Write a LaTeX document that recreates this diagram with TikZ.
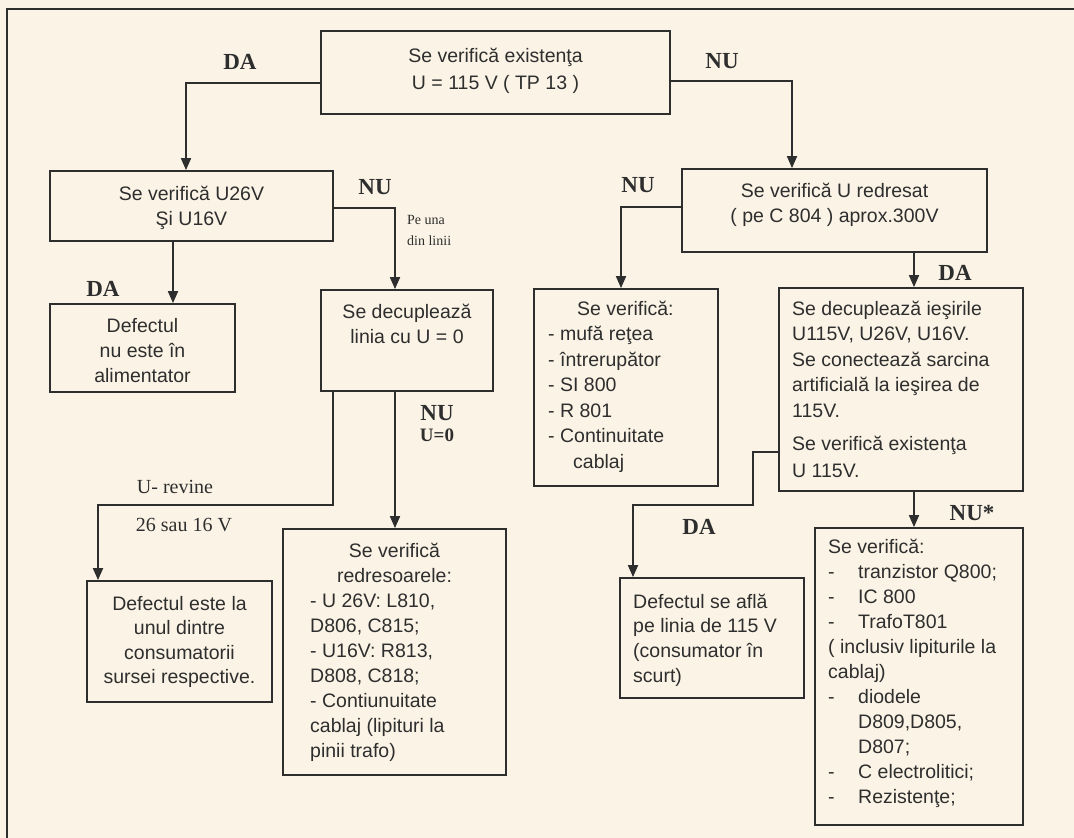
\documentclass[tikz,border=0pt]{standalone}
\usepackage{fontspec}
\setmainfont{Liberation Sans}
\newfontfamily\lblfont{Liberation Serif}
\usetikzlibrary{arrows.meta}
\definecolor{paper}{HTML}{FBF4E6}
\definecolor{ink}{HTML}{2E2E2E}
\newcommand{\fs}{\rule{0pt}{16pt}}
\begin{document}
\begin{tikzpicture}[x=1pt,y=-1pt,
  box/.style={draw=ink,line width=1.8pt,inner sep=0pt},
  arr/.style={draw=ink,line width=1.8pt,-{Triangle[length=12pt,width=10pt]}},
  txt/.style={inner sep=0pt,text=ink,font=\fontsize{19.5}{25.5}\selectfont},
  ctxt/.style={txt,anchor=north,align=center},
  ltxt/.style={txt,anchor=north west,align=left},
  lbl/.style={inner sep=0pt,text=ink,font=\lblfont\bfseries\fontsize{23}{23}\selectfont},
  note/.style={inner sep=0pt,text=ink,font=\lblfont\fontsize{20}{20}\selectfont}]
\useasboundingbox[fill=paper] (0,0) rectangle (1074,838);
% frame
\draw[ink,line width=1.2pt] (1074,9) -- (7,9) -- (7,838);
% boxes
\node[box,minimum width=349pt,minimum height=83pt] (top) at (495.5,72.5) {};
\node[box,minimum width=283pt,minimum height=70pt] (v1) at (191.5,206) {};
\node[box,minimum width=185pt,minimum height=88pt] (def1) at (142.5,348) {};
\node[box,minimum width=172pt,minimum height=101pt] (dec) at (407,340.5) {};
\node[box,minimum width=185pt,minimum height=121pt] (def2) at (179.5,641.5) {};
\node[box,minimum width=223pt,minimum height=246pt] (red) at (394.5,652) {};
\node[box,minimum width=305pt,minimum height=83pt] (redr) at (834.5,210.5) {};
\node[box,minimum width=184pt,minimum height=197pt] (mufa) at (626,387.5) {};
\node[box,minimum width=244pt,minimum height=203pt] (ies) at (901,389.5) {};
\node[box,minimum width=184pt,minimum height=120pt] (def3) at (712,638) {};
\node[box,minimum width=208pt,minimum height=297pt] (tr) at (919,676.5) {};
% texts
\node[ctxt,font=\fontsize{19.5}{27}\selectfont] (ttop) at (495.5,46) {\fs Se verifică existenţa\\U = 115 V ( TP 13 )};
\node[ctxt] (tv1) at (191.5,184) {\fs Se verifică U26V\\Şi U16V};
\node[ctxt,font=\fontsize{19.5}{25}\selectfont] (tdef1) at (142.5,316) {\fs Defectul\\nu este în\\alimentator};
\node[ctxt,font=\fontsize{19.5}{25}\selectfont] (tdec) at (407,302) {\fs Se decuplează\\linia cu U = 0};
\node[ctxt,font=\fontsize{19.5}{24.5}\selectfont] (tdef2) at (179.5,594) {\fs Defectul este la\\unul dintre\\consumatorii\\sursei respective.};
\node[ctxt,font=\fontsize{19.5}{25}\selectfont] (tred1) at (394.5,541) {\fs Se verifică\\redresoarele:};
\node[ltxt,font=\fontsize{19.5}{25}\selectfont] (tred2) at (310,591) {\fs - U 26V: L810,\\D806, C815;\\- U16V: R813,\\D808, C818;\\- Contiunuitate\\cablaj (lipituri la\\pinii trafo)};
\node[ctxt,font=\fontsize{19.5}{25}\selectfont] (tredr) at (834.5,181) {\fs Se verifică U redresat\\( pe C 804 ) aprox.300V};
\node[ltxt] (tmufa) at (548,299) {\fs\hspace*{29pt}Se verifică:\\- mufă reţea\\- întrerupător\\- SI 800\\- R 801\\- Continuitate\\\hspace*{25pt}cablaj};
\node[ltxt] (ties1) at (792,299) {\fs Se decuplează ieşirile\\U115V, U26V, U16V.\\Se conectează sarcina\\artificială la ieşirea de\\115V.};
\node[ltxt,font=\fontsize{19.5}{27}\selectfont] (ties2) at (792,434) {\fs Se verifică existenţa\\U 115V.};
\node[ltxt,font=\fontsize{19.5}{24.7}\selectfont] (tdef3) at (633,592) {\fs Defectul se află\\pe linia de 115 V\\(consumator în\\scurt)};
\node[ltxt,font=\fontsize{19.5}{25}\selectfont] (ttr) at (828,537) {\fs Se verifică:\\\makebox[30pt][l]{-}tranzistor Q800;\\\makebox[30pt][l]{-}IC 800\\\makebox[30pt][l]{-}TrafoT801\\( inclusiv lipiturile la\\cablaj)\\\makebox[30pt][l]{-}diodele\\\hspace*{30pt}D809,D805,\\\hspace*{30pt}D807;\\\makebox[30pt][l]{-}C electrolitici;\\\makebox[30pt][l]{-}Rezistenţe;};
% connectors
\draw[arr] ([yshift=-10.5pt]top.west) -| ([xshift=-5.5pt]v1.north);
\draw[arr] ([yshift=-2pt]v1.east) -| ([xshift=-12pt]dec.north);
\draw[arr] ([xshift=-18.5pt]v1.south) -- ([xshift=-18.5pt]v1.south |- def1.north);
\draw[arr] ([xshift=-74pt]dec.south) |- ([yshift=-113pt]dec.south -| def2.north) -| ([xshift=-81.5pt]def2.north);
\draw[arr] ([xshift=0.5pt]dec.south -| red.north) -- ([xshift=0.5pt]red.north);
\draw[arr] ([yshift=-8.5pt]top.east) -| ([xshift=-42.5pt]redr.north);
\draw[arr] ([yshift=3.5pt]redr.west) -| ([xshift=-5pt]mufa.north);
\draw[arr] ([xshift=79.5pt]redr.south) -- ([xshift=79.5pt]redr.south |- ies.north);
\draw[arr] ([yshift=-62.5pt]ies.west) -- ++(-25,0) |- ([yshift=-13pt]ies.south -| def3.north) -| ([xshift=-79pt]def3.north);
\draw[arr] ([xshift=13pt]ies.south) -- ([xshift=13pt]ies.south |- tr.north);
% labels
\node[lbl] (l1) at (240,62) {DA};
\node[lbl] (l2) at (722,61) {NU};
\node[lbl] (l3) at (375,187) {NU};
\node[inner sep=0pt,text=ink,font=\lblfont\fontsize{14}{21}\selectfont,anchor=north west,align=left] (l4) at (407,213) {\rule{0pt}{11pt}Pe una\\din linii};
\node[lbl] (l5) at (103,289) {DA};
\node[lbl] (l6) at (437,413) {NU};
\node[inner sep=0pt,text=ink,font=\lblfont\bfseries\fontsize{19}{19}\selectfont] (l7) at (437,435) {U=0};
\node[note] (l8) at (175,487) {U- revine};
\node[note] (l9) at (184,525) {26 sau 16 V};
\node[lbl] (l10) at (638,185) {NU};
\node[lbl] (l11) at (955,273) {DA};
\node[lbl] (l12) at (699,527) {DA};
\node[lbl] (l13) at (972,513) {NU*};
\end{tikzpicture}
\end{document}
